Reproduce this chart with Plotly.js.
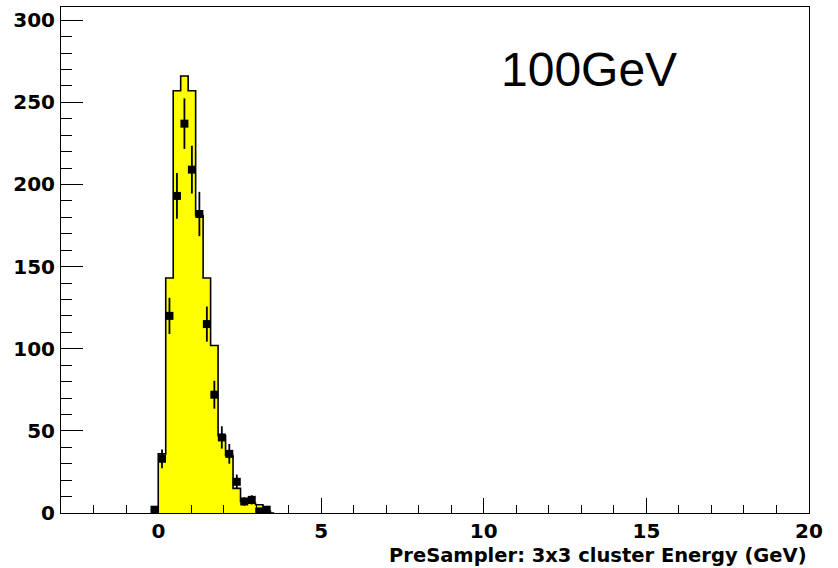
<!DOCTYPE html>
<html>
<head>
<meta charset="utf-8">
<script src="https://cdn.plot.ly/plotly-3.0.1.min.js"></script>
<style>
  html, body { margin: 0; padding: 0; background: #ffffff; }
  #chart { width: 838px; height: 568px; }
</style>
</head>
<body>
<div id="chart"></div>
<script>
// Bin centres (GeV), bin width 0.23 GeV (100 bins from -3 to 20)
const binCenters = [-0.125, 0.105, 0.335, 0.565, 0.795, 1.025, 1.255, 1.485, 1.715, 1.945, 2.175, 2.405, 2.635, 2.865, 3.095, 3.325, 3.555];
// Filled (yellow) histogram contents
const histCounts = [0, 36, 143, 257, 266, 257, 181, 143, 102, 47, 35, 15, 7, 6, 5, 1, 0];
// Data points (black squares) and their error bars
const dataCounts = [2, 33, 120, 193, 237, 209, 182, 115, 72, 46, 36, 19, 7, 8, 1, 2, null];
const dataErrors = [1.4, 5.7, 11.0, 13.9, 15.4, 14.5, 13.5, 10.7, 8.5, 6.8, 6.0, 4.4, 2.6, 2.8, 1.0, 1.4, 0];

const xTickVals = [0, 5, 10, 15, 20];
const xTickText = ["0", "5", "10", "15", "20"];
const yTickVals = [0, 50, 100, 150, 200, 250, 300];
const yTickText = ["0", "50", "100", "150", "200", "250", "300"];

const xTitle = "PreSampler: 3x3 cluster Energy (GeV)";
const label = "100GeV";

const tickFont = { family: "DejaVu Sans", size: 20, color: "#000000", weight: 700 };

const traces = [
  {
    type: "scatter",
    mode: "lines",
    x: binCenters,
    y: histCounts,
    line: { shape: "hvh", color: "#000000", width: 1.6 },
    fill: "tozeroy",
    fillcolor: "#ffff00",
    hoverinfo: "skip",
    showlegend: false
  },
  {
    type: "scatter",
    mode: "markers",
    x: binCenters,
    y: dataCounts,
    marker: { symbol: "square", size: 8, color: "#000000" },
    error_y: { type: "data", array: dataErrors, visible: true, color: "#000000", thickness: 1.8, width: 0 },
    showlegend: false
  }
];

const layout = {
  width: 838,
  height: 568,
  paper_bgcolor: "#ffffff",
  plot_bgcolor: "#ffffff",
  margin: { l: 61, r: 29, t: 7, b: 55 },
  showlegend: false,
  xaxis: {
    range: [-3, 20],
    tickmode: "array",
    tickvals: xTickVals,
    ticktext: xTickText,
    ticks: "inside",
    ticklen: 15,
    tickwidth: 1,
    tickcolor: "#000000",
    minor: { dtick: 1, tick0: 0, ticks: "inside", ticklen: 8, tickwidth: 1, tickcolor: "#000000", showgrid: false },
    showline: true,
    mirror: true,
    linecolor: "#000000",
    linewidth: 1,
    showgrid: false,
    zeroline: false,
    tickfont: tickFont,
    ticklabelstandoff: 0
  },
  yaxis: {
    range: [0, 308],
    tickmode: "array",
    tickvals: yTickVals,
    ticktext: yTickText,
    ticks: "inside",
    ticklen: 22,
    tickwidth: 1,
    tickcolor: "#000000",
    minor: { dtick: 10, tick0: 0, ticks: "inside", ticklen: 11, tickwidth: 1, tickcolor: "#000000", showgrid: false },
    showline: true,
    mirror: true,
    linecolor: "#000000",
    linewidth: 1,
    showgrid: false,
    zeroline: false,
    tickfont: tickFont,
    ticklabelstandoff: 1
  },
  annotations: [
    {
      text: xTitle,
      xref: "paper", yref: "paper",
      x: 1, y: 0,
      xanchor: "right", yanchor: "top",
      yshift: -29,
      showarrow: false,
      font: { family: "DejaVu Sans", size: 19.5, color: "#000000", weight: 700 }
    },
    {
      text: label,
      xref: "paper", yref: "paper",
      x: (589 - 61) / 748, y: (513 - 70) / 506,
      xanchor: "center", yanchor: "middle",
      showarrow: false,
      font: { family: "Liberation Sans", size: 48, color: "#000000" }
    }
  ]
};

Plotly.newPlot("chart", traces, layout, { staticPlot: true, displayModeBar: false });
</script>
</body>
</html>
